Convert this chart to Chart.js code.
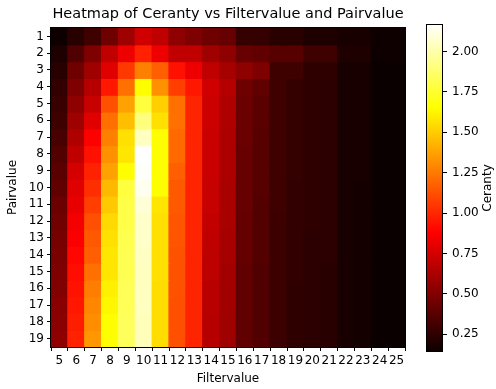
<!DOCTYPE html>
<html>
<head>
<meta charset="utf-8">
<script src="https://cdn.jsdelivr.net/npm/chart.js@4/dist/chart.umd.min.js"></script>
<style>
    body { margin: 0; background: #fff; }
    #heatWrap { position: absolute; left: 0; top: 0; width: 410px; height: 389px; }
    #barWrap { position: absolute; left: 410px; top: 0; width: 86px; height: 389px; }
</style>
</head>
<body>
<div id="heatWrap"><canvas id="heatChart"></canvas></div>
<div id="barWrap"><canvas id="colorBar"></canvas></div>
<script>
const filterValues = [5, 6, 7, 8, 9, 10, 11, 12, 13, 14, 15, 16, 17, 18, 19, 20, 21, 22, 23, 24, 25];
const pairValues = [1, 2, 3, 4, 5, 6, 7, 8, 9, 10, 11, 12, 13, 14, 15, 16, 17, 18, 19];
const colorTicks = [0.25, 0.5, 0.75, 1.0, 1.25, 1.5, 1.75, 2.0];

// one line per pairvalue, one entry per filtervalue
const ceranty = [
    [0.15, 0.23, 0.30, 0.44, 0.59, 0.74, 0.69, 0.54, 0.49, 0.44, 0.42, 0.27, 0.27, 0.23, 0.23, 0.20, 0.20, 0.18, 0.18, 0.15, 0.15],
    [0.20, 0.35, 0.49, 0.69, 0.83, 0.98, 0.83, 0.69, 0.69, 0.59, 0.54, 0.42, 0.40, 0.37, 0.37, 0.30, 0.30, 0.20, 0.20, 0.15, 0.15],
    [0.23, 0.44, 0.59, 0.79, 1.05, 1.27, 1.17, 0.93, 0.83, 0.69, 0.61, 0.54, 0.49, 0.30, 0.30, 0.25, 0.25, 0.18, 0.18, 0.14, 0.14],
    [0.26, 0.49, 0.66, 0.95, 1.22, 1.65, 1.32, 1.07, 0.95, 0.74, 0.66, 0.44, 0.40, 0.30, 0.27, 0.25, 0.24, 0.18, 0.18, 0.14, 0.14],
    [0.28, 0.54, 0.71, 1.12, 1.37, 1.78, 1.51, 1.22, 0.99, 0.73, 0.64, 0.43, 0.38, 0.30, 0.27, 0.25, 0.24, 0.18, 0.18, 0.14, 0.14],
    [0.30, 0.59, 0.79, 1.22, 1.46, 1.91, 1.56, 1.22, 0.99, 0.73, 0.64, 0.43, 0.38, 0.30, 0.27, 0.25, 0.24, 0.18, 0.18, 0.14, 0.14],
    [0.33, 0.64, 0.88, 1.27, 1.56, 2.04, 1.65, 1.20, 0.99, 0.72, 0.63, 0.43, 0.37, 0.30, 0.27, 0.25, 0.24, 0.18, 0.18, 0.14, 0.14],
    [0.36, 0.69, 0.93, 1.32, 1.58, 2.17, 1.65, 1.20, 0.99, 0.72, 0.63, 0.42, 0.37, 0.30, 0.27, 0.25, 0.24, 0.18, 0.18, 0.14, 0.14],
    [0.38, 0.75, 0.98, 1.37, 1.65, 2.16, 1.65, 1.17, 0.99, 0.72, 0.63, 0.42, 0.37, 0.30, 0.27, 0.25, 0.24, 0.18, 0.18, 0.14, 0.14],
    [0.40, 0.79, 1.02, 1.44, 1.78, 2.14, 1.65, 1.15, 0.99, 0.71, 0.62, 0.42, 0.37, 0.30, 0.26, 0.25, 0.24, 0.18, 0.17, 0.14, 0.14],
    [0.43, 0.81, 1.07, 1.49, 1.80, 2.09, 1.58, 1.15, 0.99, 0.71, 0.62, 0.42, 0.36, 0.30, 0.26, 0.25, 0.24, 0.18, 0.17, 0.14, 0.14],
    [0.45, 0.85, 1.12, 1.54, 1.80, 2.06, 1.56, 1.14, 0.99, 0.70, 0.62, 0.41, 0.36, 0.29, 0.26, 0.25, 0.24, 0.18, 0.17, 0.14, 0.14],
    [0.47, 0.87, 1.15, 1.56, 1.81, 2.06, 1.56, 1.14, 0.99, 0.69, 0.61, 0.41, 0.36, 0.29, 0.26, 0.24, 0.24, 0.18, 0.17, 0.14, 0.14],
    [0.48, 0.90, 1.17, 1.58, 1.82, 2.05, 1.56, 1.13, 0.99, 0.68, 0.61, 0.41, 0.36, 0.29, 0.26, 0.24, 0.24, 0.18, 0.17, 0.14, 0.14],
    [0.49, 0.92, 1.22, 1.58, 1.82, 2.04, 1.56, 1.13, 0.99, 0.68, 0.60, 0.40, 0.35, 0.29, 0.26, 0.24, 0.23, 0.18, 0.17, 0.14, 0.14],
    [0.50, 0.94, 1.26, 1.61, 1.83, 2.04, 1.55, 1.13, 0.99, 0.67, 0.60, 0.40, 0.35, 0.29, 0.25, 0.24, 0.23, 0.18, 0.17, 0.14, 0.14],
    [0.52, 0.95, 1.29, 1.63, 1.83, 2.04, 1.55, 1.12, 0.99, 0.67, 0.60, 0.40, 0.35, 0.29, 0.25, 0.24, 0.23, 0.18, 0.17, 0.14, 0.14],
    [0.53, 0.97, 1.31, 1.65, 1.84, 2.03, 1.55, 1.12, 0.99, 0.66, 0.59, 0.40, 0.35, 0.29, 0.25, 0.24, 0.23, 0.18, 0.17, 0.14, 0.14],
    [0.54, 0.98, 1.34, 1.65, 1.84, 2.03, 1.55, 1.12, 0.99, 0.66, 0.59, 0.40, 0.35, 0.29, 0.25, 0.24, 0.23, 0.18, 0.17, 0.14, 0.14]
];

const allValues = ceranty.flat();
const vmin = Math.min(...allValues);
const vmax = Math.max(...allValues);

const FONT = 'DejaVu Sans';
const TICK_SIZE = 12;

// matplotlib "hot": red ramps first, then green, then blue
const HOT_R = 0.365079, HOT_G = 0.746032;
function clamp01(x) { return Math.max(0, Math.min(1, x)); }
function hotColor(t) {
    t = clamp01(t);
    const r = t < HOT_R ? 0.0416 + (1 - 0.0416) * t / HOT_R : 1;
    const g = clamp01((t - HOT_R) / (HOT_G - HOT_R));
    const b = clamp01((t - HOT_G) / (1 - HOT_G));
    return `rgb(${Math.round(r * 255)},${Math.round(g * 255)},${Math.round(b * 255)})`;
}
function colorFor(v) { return hotColor((v - vmin) / (vmax - vmin)); }

// black outline round the plot
const frame = {
    id: 'frame',
    afterDatasetsDraw(chart) {
        const a = chart.chartArea, ctx = chart.ctx;
        ctx.save();
        ctx.strokeStyle = '#000';
        ctx.lineWidth = 1;
        ctx.strokeRect(Math.round(a.left) - 0.5, Math.round(a.top) - 0.5,
            Math.round(a.right - a.left) + 1, Math.round(a.bottom - a.top) + 1);
        ctx.restore();
    }
};

// each pairvalue is a dataset of floating bars, one cell per filtervalue
const heatSets = pairValues.map((p, i) => ({
    label: 'Pairvalue ' + p,
    data: filterValues.map(() => [p - 0.5, p + 0.5]),
    backgroundColor: ceranty[i].map(colorFor),
    borderWidth: 0,
    inflateAmount: 0.6,
    grouped: false,
    barPercentage: 1,
    categoryPercentage: 1
}));

new Chart(document.getElementById('heatChart'), {
    type: 'bar',
    data: { labels: filterValues.map(String), datasets: heatSets },
    options: {
        responsive: true,
        maintainAspectRatio: false,
        animation: false,
        layout: { padding: { left: 0, right: 5, top: 0, bottom: 0 } },
        plugins: {
            legend: { display: false },
            tooltip: {
                callbacks: {
                    label: (c) => 'Ceranty: ' + ceranty[c.datasetIndex][c.dataIndex]
                }
            },
            title: {
                display: true,
                fullSize: false,
                text: 'Heatmap of Ceranty vs Filtervalue and Pairvalue',
                color: '#000',
                font: { family: FONT, size: 14.5, weight: 'normal', lineHeight: 1.2 },
                padding: { top: 6, bottom: 4.6 }
            }
        },
        scales: {
            x: {
                grid: { display: true, drawOnChartArea: false, tickLength: 4, color: '#000' },
                border: { display: false },
                ticks: {
                    color: '#000', padding: 3, autoSkip: false, maxRotation: 0,
                    font: { family: FONT, size: TICK_SIZE }
                },
                title: {
                    display: true, text: 'Filtervalue', color: '#000',
                    font: { family: FONT, size: TICK_SIZE }, padding: { top: 0, bottom: 3 }
                },
                afterFit(scale) { scale.height = 42; }
            },
            y: {
                type: 'linear',
                reverse: true,
                min: 0.5,
                max: 19.5,
                grid: { display: true, drawOnChartArea: false, tickLength: 4, color: '#000' },
                border: { display: false },
                afterBuildTicks(scale) { scale.ticks = pairValues.map(v => ({ value: v })); },
                ticks: { color: '#000', padding: 3, font: { family: FONT, size: TICK_SIZE } },
                title: {
                    display: true, text: 'Pairvalue', color: '#000',
                    font: { family: FONT, size: TICK_SIZE }, padding: { top: 6, bottom: 6 }
                },
                afterFit(scale) { scale.width = 51; }
            }
        }
    },
    plugins: [frame]
});

// colour bar: one floating bar spanning the data range, filled with the colormap
const barLabel = {
    id: 'barLabel',
    afterDraw(chart) {
        const ctx = chart.ctx;
        ctx.save();
        ctx.translate(78, (chart.chartArea.top + chart.chartArea.bottom) / 2);
        ctx.rotate(-Math.PI / 2);
        ctx.fillStyle = '#000';
        ctx.font = TICK_SIZE + 'px "' + FONT + '"';
        ctx.textAlign = 'center';
        ctx.textBaseline = 'middle';
        ctx.fillText('Ceranty', 0, 0);
        ctx.restore();
    }
};

new Chart(document.getElementById('colorBar'), {
    type: 'bar',
    data: {
        labels: [''],
        datasets: [{
            data: [[vmin, vmax]],
            backgroundColor(context) {
                const chart = context.chart;
                if (!chart.chartArea) return null;
                const y = chart.scales.y;
                const g = chart.ctx.createLinearGradient(0, y.getPixelForValue(vmin), 0, y.getPixelForValue(vmax));
                [0, HOT_R, HOT_G, 1].forEach(t => g.addColorStop(t, hotColor(t)));
                return g;
            },
            borderColor: '#000',
            borderWidth: 1,
            borderSkipped: false,
            inflateAmount: 0,
            barPercentage: 1,
            categoryPercentage: 1
        }]
    },
    options: {
        responsive: true,
        maintainAspectRatio: false,
        animation: false,
        layout: { padding: { left: 16, right: 0, top: 24, bottom: 37 } },
        plugins: { legend: { display: false }, tooltip: { enabled: false } },
        scales: {
            x: { display: false },
            y: {
                position: 'right',
                min: vmin,
                max: vmax,
                grid: { display: true, drawOnChartArea: false, tickLength: 4, color: '#000' },
                border: { display: false },
                afterBuildTicks(scale) { scale.ticks = colorTicks.map(v => ({ value: v })); },
                ticks: {
                    color: '#000', padding: 5, font: { family: FONT, size: TICK_SIZE },
                    callback: (v) => Number(v).toFixed(2)
                },
                afterFit(scale) { scale.width = 53; }
            }
        }
    },
    plugins: [barLabel]
});
</script>
</body>
</html>
